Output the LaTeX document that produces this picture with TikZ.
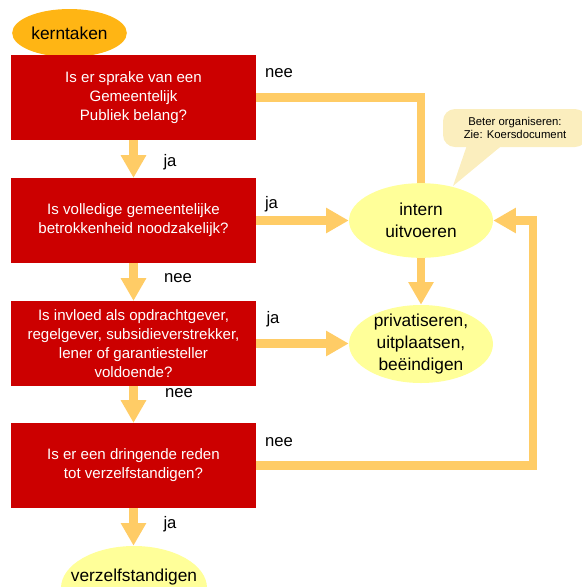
\documentclass[tikz,border=0pt]{standalone}
\usepackage{fontspec}
\setmainfont{Liberation Sans}
\usetikzlibrary{shapes.geometric,arrows.meta}
\definecolor{boxred}{RGB}{204,0,0}
\definecolor{flowline}{RGB}{255,204,102}
\definecolor{ovalyellow}{RGB}{255,255,153}
\definecolor{startorange}{RGB}{255,181,20}
\definecolor{notefill}{RGB}{251,238,190}
\begin{document}
\begin{tikzpicture}[x=0.75pt,y=-0.75pt,
    question/.style={rectangle,fill=boxred,text=white,inner sep=0pt,
        minimum width=183.75pt,minimum height=63.5pt,align=center,
        font=\fontsize{11.3}{14.3}\selectfont},
    outcome/.style={ellipse,fill=ovalyellow,inner xsep=0pt,inner ysep=-8pt,align=center,
        font=\fontsize{13}{16.5}\selectfont},
    answer/.style={inner sep=0pt,font=\fontsize{12.5}{15}\selectfont},
    flow/.style={draw=flowline,line width=6.5pt},
    flowarrow/.style={flow,-{Triangle[width=18pt,length=17pt]}}]
    \useasboundingbox (0,0) rectangle (582,587);
    \node[ellipse,fill=startorange,inner sep=0pt,minimum width=86pt,minimum height=36pt,
        font=\fontsize{13}{15}\selectfont] (start) at (69.5,33) {kerntaken};
    \node[rectangle,rounded corners=9pt,fill=notefill,minimum width=108pt,minimum height=28.5pt,
        inner sep=0pt,align=center,font=\fontsize{8.5}{9.75}\selectfont] (note) at (515,128)
        {Beter organiseren:\\Zie: Koersdocument};
    \coordinate (notetip) at (453,186);
    \fill[notefill] ([xshift=18pt,yshift=1pt]note.south west) -- (notetip)
        -- ([xshift=44pt,yshift=1pt]note.south west) -- cycle;
    \node[question] (q1) at (133.5,97.5) {Is er sprake van een\\Gemeentelijk\\Publiek belang?};
    \node[question] (q2) at (133.5,220.5) {Is volledige gemeentelijke\\betrokkenheid noodzakelijk?};
    \node[question] (q3) at (133.5,343.5) {Is invloed als opdrachtgever,\\regelgever, subsidieverstrekker,\\lener of garantiesteller\\voldoende?};
    \node[question] (q4) at (133.5,465.5) {Is er een dringende reden\\tot verzelfstandigen?};
    \node[outcome,minimum width=108pt,minimum height=56pt] (intern) at (421,220.5) {intern\\uitvoeren};
    \node[outcome,minimum width=108pt,minimum height=58.5pt] (priv) at (421,344) {privatiseren,\\uitplaatsen,\\beëindigen};
    \node[outcome,inner xsep=-20pt,minimum width=109.5pt,minimum height=63pt,
        text height=9.5pt,text depth=19pt] (verz) at (134,588) {verzelfstandigen};
    \coordinate (back) at (533,465.5);
    \draw[flowarrow] (q1.south) -- (q2.north);
    \draw[flowarrow] (q2.south) -- (q3.north);
    \draw[flowarrow] (q3.south) -- (q4.north);
    \draw[flowarrow] (q4.south) -- (q4.south |- verz.north);
    \draw[flow] (q1.east) -| (intern.north);
    \draw[flowarrow] (q2.east) -- (intern.west);
    \draw[flowarrow] (q3.east) -- (q3.east -| priv.west);
    \draw[flowarrow] (intern.south) -- (priv.north);
    \draw[flowarrow] (q4.east) -- (back) |- (intern.east);
    \node[answer] (nee1) at (279,73) {nee};
    \node[answer] (ja2) at (271.5,204) {ja};
    \node[answer] (ja3) at (273,319) {ja};
    \node[answer] (nee4) at (279,442) {nee};
    \node[answer] (ja1) at (170,162) {ja};
    \node[answer] (nee2) at (178,278) {nee};
    \node[answer] (nee3) at (179,393) {nee};
    \node[answer] (ja4) at (170,524) {ja};
\end{tikzpicture}
\end{document}
